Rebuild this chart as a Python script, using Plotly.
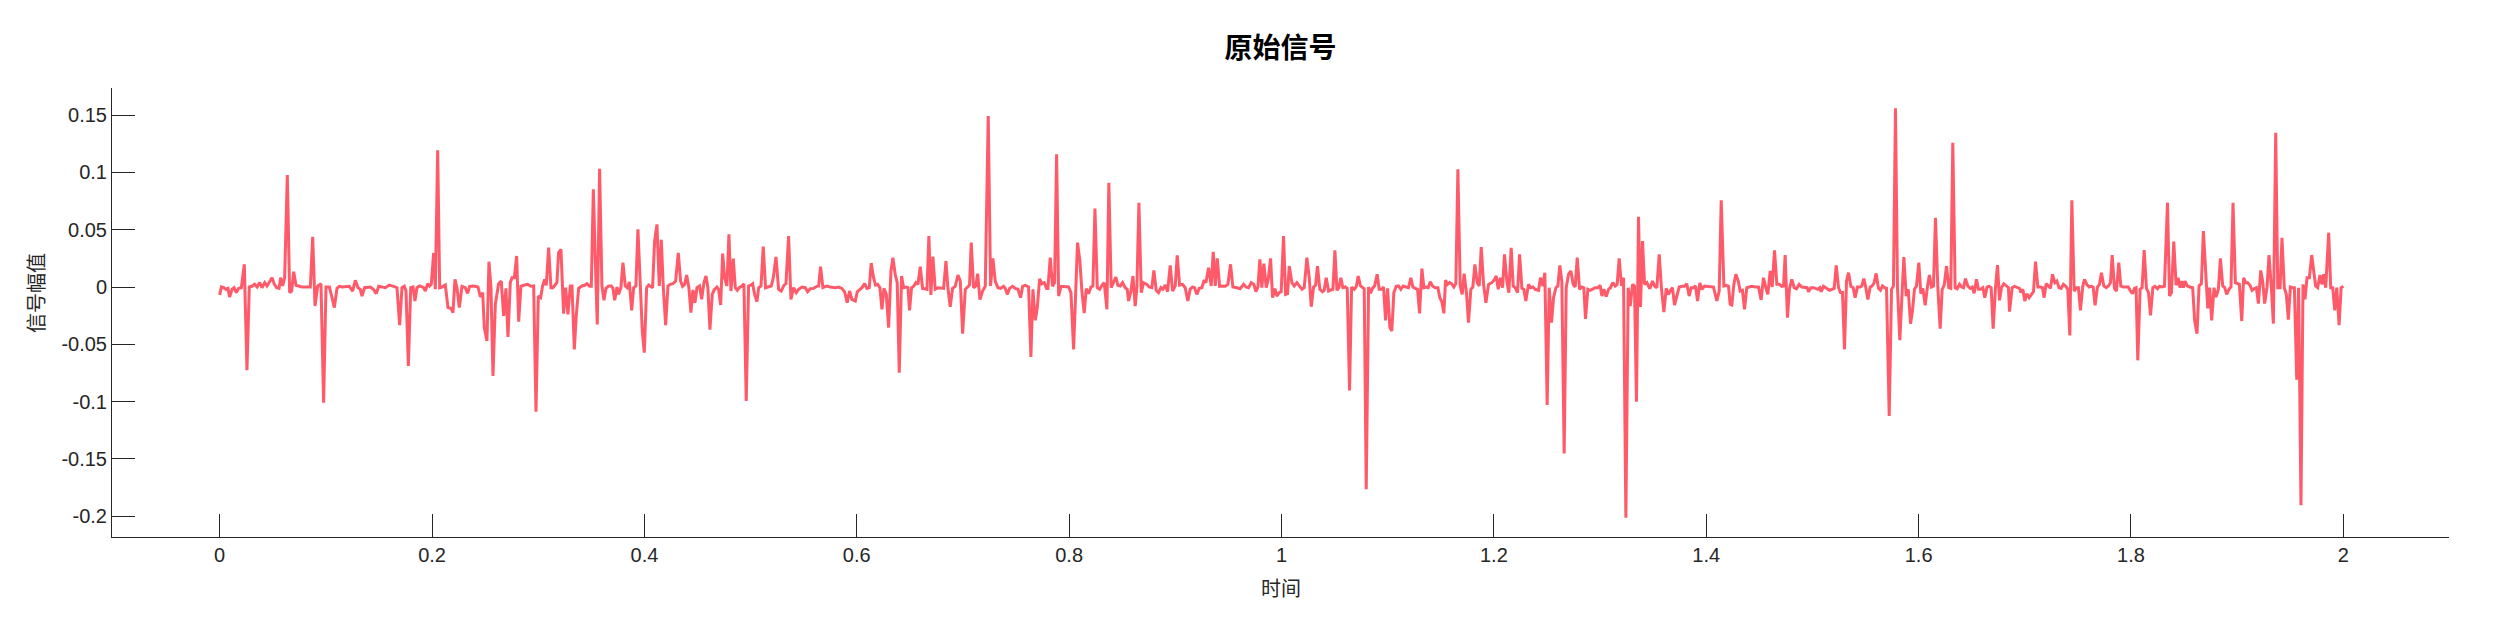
import plotly.graph_objects as go

# ---------------- data ----------------
time_s = [
    0.0, 0.0016, 0.0038, 0.006, 0.0078, 0.0094, 0.0116, 0.0135, 0.0157, 0.0179,
    0.0204, 0.0232, 0.0257, 0.0279, 0.0304, 0.033, 0.0352, 0.0377, 0.0399, 0.0424,
    0.0446, 0.0471, 0.0493, 0.0515, 0.0537, 0.0559, 0.0574, 0.0593, 0.0612, 0.0637,
    0.0659, 0.0678, 0.0697, 0.0719, 0.0744, 0.0775, 0.0854, 0.0876, 0.0898, 0.0923,
    0.0954, 0.0979, 0.1001, 0.1033, 0.1058, 0.108, 0.1105, 0.1127, 0.1152, 0.1221,
    0.1252, 0.1277, 0.1303, 0.1325, 0.134, 0.1365, 0.1419, 0.145, 0.1475, 0.1497,
    # seg 2
    0.156, 0.1598, 0.1638, 0.167, 0.1695, 0.1717, 0.1739, 0.1755, 0.1777, 0.1799,
    0.1821, 0.1839, 0.1858, 0.1883, 0.1921, 0.1937, 0.1959, 0.1977, 0.1993, 0.2015,
    0.2031, 0.2053, 0.2072, 0.2094, 0.2125, 0.215, 0.2178, 0.2197, 0.2216, 0.2235,
    0.2257, 0.2282, 0.2313, 0.2335, 0.2354, 0.2392, 0.2433, 0.2455, 0.2477, 0.2492,
    0.2517, 0.2536, 0.2555, 0.2574, 0.2596, 0.2627, 0.2652, 0.2674, 0.2696, 0.2715,
    0.2737, 0.2753, 0.2775, 0.2797, 0.2816, 0.2837, 0.2863, 0.29, 0.2932, 0.2957,
    0.2979, 0.3001, 0.3023, 0.3041, 0.306, 0.3076, 0.3098, 0.312, 0.3139, 0.3176,
    0.3192, 0.3214, 0.3239, 0.3258, 0.328,
    # seg 3
    0.3302, 0.3318, 0.334, 0.3359, 0.3381, 0.3412, 0.3437, 0.3459, 0.3484, 0.35,
    0.3519, 0.3538, 0.3556, 0.3578, 0.36, 0.3619, 0.3638, 0.3663, 0.3688, 0.3704,
    0.372, 0.3742, 0.3757, 0.3779, 0.3798, 0.382, 0.3839, 0.3858, 0.388, 0.3899,
    0.392, 0.3939, 0.3964, 0.398, 0.3999, 0.4021, 0.404, 0.4059, 0.4077, 0.4096,
    0.4118, 0.414, 0.4159, 0.4178, 0.42, 0.4222, 0.4244, 0.4269, 0.4294, 0.4319,
    0.4341, 0.436, 0.4379, 0.4398, 0.4419, 0.4438, 0.4457, 0.4476, 0.4495, 0.452,
    0.4539, 0.4561, 0.458, 0.4598, 0.4617, 0.4639, 0.4658, 0.4683, 0.4699, 0.4718,
    0.4737, 0.4755, 0.4777, 0.4796, 0.4815, 0.4837, 0.4856, 0.4875, 0.4893, 0.4919,
    0.4937, 0.4959,
    # seg 4
    0.4981, 0.5003, 0.5019, 0.5038, 0.506, 0.5076, 0.5098, 0.5119, 0.5141, 0.5163,
    0.5195, 0.5214, 0.5239, 0.5264, 0.5289, 0.5311, 0.5333, 0.5358, 0.538, 0.5405,
    0.543, 0.5452, 0.5484, 0.5515, 0.5537, 0.5562, 0.5593, 0.5625, 0.5641, 0.5659,
    0.5681, 0.5719, 0.575, 0.5797, 0.5829, 0.586, 0.5885, 0.591, 0.5932, 0.5954,
    0.5986, 0.6005, 0.6027, 0.6049, 0.6074, 0.6096, 0.6118, 0.6136, 0.6158, 0.6177,
    0.6196, 0.6218, 0.6237, 0.6256, 0.6278, 0.63, 0.6322, 0.634, 0.6362, 0.6381,
    0.64, 0.6422, 0.6441, 0.6463, 0.6482, 0.6497, 0.6516, 0.6538, 0.6557, 0.6576,
    0.6598, 0.662, 0.6639, 0.6661, 0.6679,
    # seg 5
    0.6698, 0.6717, 0.6739, 0.6764, 0.6793, 0.6818, 0.684, 0.6858, 0.688, 0.6902,
    0.6927, 0.6953, 0.6975, 0.6997, 0.7022, 0.7047, 0.7062, 0.7078, 0.71, 0.7122,
    0.7138, 0.716, 0.7185, 0.721, 0.7238, 0.726, 0.7282, 0.7304, 0.7329, 0.7354,
    0.7383, 0.7398, 0.7417, 0.7439, 0.7467, 0.7492, 0.7518, 0.7543, 0.7562, 0.7587,
    0.7618, 0.764, 0.7659, 0.7681, 0.77, 0.7722, 0.7744, 0.7766, 0.7788, 0.78,
    0.7822, 0.7844, 0.7863, 0.7882, 0.7901, 0.7923, 0.7963, 0.7995, 0.8017, 0.8042,
    0.8061, 0.8079, 0.8101, 0.812, 0.8142, 0.8161, 0.8183, 0.8205, 0.8224, 0.8243,
    0.8265, 0.8287, 0.8309, 0.833, 0.8356, 0.8374,
    # seg 6
    0.8396, 0.8418, 0.844, 0.8459, 0.8481, 0.8503, 0.8528, 0.8547, 0.856, 0.8582,
    0.8601, 0.8622, 0.8638, 0.8657, 0.8679, 0.8701, 0.8732, 0.8754, 0.8779, 0.8798,
    0.882, 0.8842, 0.8864, 0.8883, 0.8905, 0.8927, 0.8952, 0.8974, 0.8999, 0.9018,
    0.904, 0.9068, 0.9093, 0.9118, 0.914, 0.9162, 0.9181, 0.9203, 0.9225, 0.925,
    0.9272, 0.9288, 0.9313, 0.9338, 0.9357, 0.9376, 0.9395, 0.9417, 0.9439, 0.947,
    0.9495, 0.952, 0.9542, 0.958, 0.9611, 0.9643, 0.9665, 0.969, 0.9715, 0.974,
    0.9759, 0.9778, 0.9796, 0.9815, 0.9834, 0.9856, 0.9875, 0.9897, 0.9916, 0.9938,
    0.9956, 0.9978, 0.9997, 1.0019, 1.0038, 1.0057, 1.0073,
    # seg 7
    1.0098, 1.012, 1.0145, 1.0167, 1.0192, 1.0214, 1.0239, 1.0261, 1.028, 1.0302,
    1.0321, 1.0339, 1.0361, 1.0387, 1.0402, 1.0421, 1.0443, 1.0465, 1.0484, 1.0503,
    1.0522, 1.054, 1.0559, 1.0578, 1.06, 1.0619, 1.0641, 1.066, 1.0685, 1.0704,
    1.0722, 1.0744, 1.0763, 1.0779, 1.0798, 1.082, 1.0839, 1.0857, 1.0876, 1.0901,
    1.092, 1.0945, 1.0961, 1.098, 1.0999, 1.1021, 1.1039, 1.1058, 1.108, 1.1102,
    1.1124, 1.1146, 1.1171, 1.1196, 1.1218, 1.1237, 1.1259, 1.1281, 1.13, 1.1322,
    1.1341, 1.1363, 1.1382, 1.14, 1.1422, 1.1447, 1.1473, 1.1491, 1.151, 1.1529,
    1.1545, 1.1564, 1.1582, 1.1601, 1.1623, 1.1642, 1.1661, 1.1683, 1.1702, 1.172,
    1.1743, 1.1761,
    # seg 8
    1.1783, 1.1802, 1.1821, 1.1843, 1.1862, 1.1881, 1.1903, 1.1925, 1.195, 1.1981,
    1.2006, 1.2022, 1.2041, 1.206, 1.2082, 1.21, 1.2122, 1.2141, 1.2163, 1.2182,
    1.2201, 1.2223, 1.2242, 1.2264, 1.2282, 1.2301, 1.2326, 1.2345, 1.2367, 1.2389,
    1.2421, 1.2439, 1.2461, 1.248, 1.2502, 1.2521, 1.2543, 1.2562, 1.2584, 1.2603,
    1.2621, 1.264, 1.2662, 1.2681, 1.2703, 1.2725, 1.2747, 1.2766, 1.2785, 1.2807,
    1.2829, 1.2847, 1.2863, 1.2885, 1.2907, 1.2929, 1.2954, 1.2979, 1.3001, 1.3017,
    1.3036, 1.3058, 1.308, 1.3098, 1.312, 1.3142, 1.3161, 1.318, 1.3202, 1.3221,
    1.3243, 1.3265, 1.3284, 1.3306, 1.3324, 1.3343, 1.3362, 1.3381, 1.34, 1.3419,
    1.3441, 1.3463,
    # seg 9
    1.3472, 1.3494, 1.3513, 1.3535, 1.3557, 1.3579, 1.3601, 1.3623, 1.3645,
    1.3664, 1.3682, 1.3701, 1.3726, 1.3745, 1.377, 1.3795, 1.3817, 1.3839, 1.3858,
    1.388, 1.3899, 1.3918, 1.394, 1.3959, 1.3984, 1.4009, 1.4037, 1.4068, 1.41,
    1.4122, 1.4141, 1.4166, 1.4188, 1.421, 1.4225, 1.4241, 1.426, 1.4279, 1.4301,
    1.432, 1.4341, 1.436, 1.4382, 1.4404, 1.4429, 1.4461, 1.4492, 1.4517, 1.4539,
    1.4561, 1.458, 1.4602, 1.4621, 1.4643, 1.4665, 1.4687, 1.4712, 1.4728, 1.4743,
    1.4765, 1.4784, 1.4806, 1.4828, 1.485, 1.4875, 1.49, 1.4925, 1.495, 1.4963,
    1.4985, 1.501, 1.5032, 1.5051, 1.507, 1.5082, 1.5104,
    # seg 10
    1.5139, 1.5161, 1.5183, 1.5205, 1.5224, 1.5246, 1.5264, 1.5283, 1.5302, 1.5321,
    1.534, 1.5362, 1.5384, 1.5402, 1.5424, 1.545, 1.5465, 1.5484, 1.5503, 1.5522,
    1.5544, 1.5563, 1.5581, 1.56, 1.5622, 1.5641, 1.566, 1.5679, 1.5698, 1.5723,
    1.5745, 1.5763, 1.5782, 1.5801, 1.5823, 1.5842, 1.5861, 1.5883, 1.5902, 1.5924,
    1.5942, 1.5961, 1.598, 1.6002, 1.6021, 1.604, 1.6062, 1.6084, 1.6102, 1.6121,
    1.614, 1.6159, 1.6181, 1.6203, 1.6222, 1.6241, 1.6263, 1.6284, 1.6303, 1.6322,
    1.6344, 1.6363, 1.6385, 1.6404, 1.6423, 1.6441, 1.6463, 1.6485, 1.6504, 1.6523,
    1.6545, 1.6564, 1.6583, 1.6605, 1.6623, 1.6645, 1.6664, 1.6683, 1.6702, 1.6724,
    1.6743, 1.6762, 1.678, 1.6802, 1.6824, 1.6846, 1.6856,
    # seg 11
    1.6881, 1.6903, 1.6928, 1.695, 1.6963, 1.6981, 1.7, 1.7019, 1.7041, 1.706,
    1.7082, 1.7101, 1.7123, 1.7145, 1.7167, 1.7182, 1.7201, 1.7223, 1.7242, 1.7261,
    1.7283, 1.7302, 1.7323, 1.7342, 1.7364, 1.7386, 1.7405, 1.7424, 1.7443, 1.7465,
    1.7487, 1.7505, 1.7524, 1.7546, 1.7562, 1.7584, 1.7606, 1.7625, 1.7644, 1.7662,
    1.7684, 1.7703, 1.7722, 1.7744, 1.7766, 1.7788, 1.7807, 1.7823, 1.7845, 1.7863,
    1.7885, 1.7904, 1.7926, 1.7951, 1.7976, 1.7995, 1.8014, 1.8033, 1.8048, 1.8064,
    1.8086, 1.8105, 1.8124, 1.8146, 1.8165, 1.8184, 1.8206, 1.8227, 1.8249, 1.8268,
    1.829, 1.8315, 1.8344, 1.8363, 1.8381, 1.8403, 1.8425, 1.8444,
    # seg 12
    1.8462, 1.8478, 1.8493, 1.8509, 1.8531, 1.8556, 1.8581, 1.86, 1.8622, 1.8641,
    1.8663, 1.8682, 1.8704, 1.8723, 1.8741, 1.876, 1.8782, 1.8801, 1.8823, 1.8842,
    1.8864, 1.8883, 1.8901, 1.8923, 1.8942, 1.8961, 1.8983, 1.9002, 1.9021, 1.9043,
    1.9061, 1.908, 1.9099, 1.9121, 1.914, 1.9159, 1.9181, 1.92, 1.9222, 1.924,
    1.9259, 1.9281, 1.93, 1.9322, 1.9341, 1.9363, 1.9382, 1.9404, 1.9422, 1.9444,
    1.9463, 1.9482, 1.9501, 1.952, 1.9539, 1.9561, 1.9579, 1.9601, 1.962, 1.9639,
    1.9658, 1.968, 1.9702, 1.9721, 1.9739, 1.9758, 1.978, 1.9799, 1.9815, 1.9834,
    1.9862, 1.9881, 1.99, 1.9919, 1.9938, 1.996, 1.9979, 2.0,
]

amplitude = [
    -0.007, 0, -0.0006, -0.002, -0.0012, -0.0087, -0.002, -0.0006, -0.0049, -0.0012,
    -0.0006, 0.0198, -0.0727, 0, 0.0006, 0.0023, 0, 0.0038, -0.0006, 0.0038,
    0.0009, 0.0047, 0.0081, 0.0023, -0.0006, -0.0012, 0.0081, 0.0009, 0.0081, 0.0977,
    -0.0049, -0.0035, 0.0134, 0.0015, 0.0009, 0, 0, 0.0439, -0.0166, 0.0009,
    0.0029, -0.1009, 0, 0, -0.0093, -0.018, -0.0012, 0.0006, 0, 0.0006,
    -0.0035, 0.0058, -0.0006, -0.002, -0.0079, -0.0006, 0, -0.0023, -0.0058, 0.0006,
    # seg 2
    -0.0006, 0.0017, 0.0006, -0.0006, -0.0332, -0.0006, 0.0006, -0.0035, -0.0689, -0.0006,
    0, -0.0122, -0.0006, 0.0009, -0.0006, -0.0035, 0.0029, 0.0009, 0.0023, 0.0297,
    -0.002, 0.1193, -0.0006, 0, 0.0017, -0.018, -0.0186, -0.0224, 0.0067, -0.0006,
    -0.018, 0.0006, -0.0006, -0.0055, 0.0006, 0.0009, 0, -0.0087, -0.0049, -0.0355,
    -0.0471, 0.0221, -0.0006, -0.0777, -0.0151, 0.0029, 0.0052, -0.0253, -0.0012, -0.0436,
    0.0038, 0.0081, 0.0081, 0.0271, -0.0303, 0.0006, 0.0015, 0.0023, 0.0006, 0.0009,
    -0.1088, -0.0079, -0.0093, 0.0009, 0.0067, 0.0015, 0.0343, -0.0006, -0.0006, 0.0038,
    0.03, 0.0329, -0.0233, -0.0006, -0.0239,
    # seg 3
    0.0009, 0.0009, -0.0544, -0.0239, -0.0012, 0.0009, 0.0015, 0.0029, 0.0006, 0.0006,
    0.0852, 0.0227, -0.0326, 0.1033, 0.0009, -0.0116, -0.0012, 0.0009, 0.0009, -0.0012,
    -0.0116, 0, -0.0064, -0.0006, 0.0212, 0.0009, -0.0006, 0.0044, -0.0204, -0.0006,
    0.0009, 0.0503, -0.0006, -0.0384, -0.0573, -0.0006, 0.0017, 0.0006, -0.0006, 0.0401,
    0.0547, 0.0009, 0.0413, -0.0006, -0.0332, 0.0009, 0.0023, 0.0029, 0.0052, 0.0297,
    0.0052, 0.0006, 0.0023, 0.0105, -0.0006, -0.0224, -0.0026, -0.0137, -0.0006, 0.0009,
    -0.0108, 0.0038, 0.0096, -0.0006, -0.0372, -0.0064, -0.0023, 0, -0.0023, -0.0157,
    0.0291, 0.0081, 0.0009, 0.046, -0.0035, 0.0247, -0.0006, -0.0029, -0.0006, 0.0009,
    0.0029, -0.0995,
    # seg 4
    0.0009, 0.0017, 0.0029, -0.0064, -0.0128, -0.0006, 0.0009, 0.0352, -0.0006, 0,
    0.0009, 0.0081, 0.0262, -0.002, -0.0035, 0.0009, 0.0029, 0.0445, -0.0108, -0.0006,
    -0.0049, -0.002, 0, -0.0006, -0.0041, -0.0015, -0.0012, 0.0006, 0.0009, 0.0177,
    -0.0006, 0.0009, 0, -0.0006, 0, -0.0012, -0.0041, -0.0137, -0.0035, -0.0108,
    -0.0122, -0.0041, -0.0026, -0.0006, 0.0029, -0.0012, -0.0006, 0.0209, 0.0081, 0.0017,
    0.0023, -0.0006, -0.0195, -0.0012, -0.0064, -0.0355, 0.014, 0.0256, 0.0111, 0.0038,
    -0.0748, 0.0096, -0.0006, 0, -0.0006, -0.0204, -0.0006, 0.0009, 0.0038, 0.0023,
    0.0177, -0.0012, -0.0015, -0.002, 0.0445,
    # seg 5
    -0.007, 0.0265, -0.002, -0.0006, -0.0006, -0.0012, 0.0227, -0.0006, -0.0172, -0.0012,
    0.0006, 0.0105, 0.0052, -0.0407, -0.002, 0.0009, 0.0017, 0.0387, -0.0006, 0.0009,
    0.0116, -0.011, -0.0035, 0.0006, 0.1492, 0.0009, 0.025, 0.0052, -0.0006, -0.0012,
    0.0006, -0.0012, -0.0064, -0.0012, 0.0006, -0.0012, -0.002, -0.0093, 0.0006, 0.0015,
    0, -0.0611, -0.002, -0.0291, -0.018, 0.007, 0.0029, 0.0038, -0.0012, -0.0012,
    0.0256, 0.0006, 0.0038, 0.1158, -0.0079, 0.0006, 0.0006, 0, -0.0049, -0.0544,
    -0.0064, 0.0387, 0.0227, -0.0035, -0.0227, -0.0015, -0.0058, 0, 0.0009, 0.0684,
    -0.0006, -0.002, 0.0015, 0.0038, -0.0195, 0.091,
    # seg 6
    -0.0006, 0.0038, 0.0087, 0.0015, 0.0009, 0.0038, -0.0006, -0.002, -0.0122, -0.0035,
    0.0096, -0.0166, -0.0006, 0.0736, -0.0049, 0.0038, 0.0023, 0, -0.0006, 0.0145,
    -0.0029, -0.0049, -0.0006, -0.002, 0.0017, -0.0041, 0.0189, -0.0035, 0.0009, 0.0276,
    0.0017, 0.0023, -0.0006, -0.0122, -0.002, 0, -0.0006, -0.0064, -0.0012, -0.0006,
    0.0061, 0.0038, 0.0169, 0.0009, 0.0308, 0.0009, 0.025, 0.0006, 0.0009, 0.0006,
    0.0023, 0.0198, 0, -0.0006, -0.0015, 0.0023, 0, -0.0006, 0.0038, 0.0023,
    -0.0041, 0, 0.0241, -0.0006, 0.0204, -0.0006, 0.0067, 0.025, -0.0093, -0.0015,
    -0.0079, -0.0049, -0.0041, 0.0445, -0.0064, -0.0058, 0.0183,
    # seg 7
    0.0038, 0.0009, 0.0038, 0.0015, -0.002, -0.0006, 0.0256, 0.0081, -0.0172, 0,
    0.0015, 0.0183, -0.002, -0.0041, -0.0029, 0.0081, -0.0035, -0.0026, -0.002, 0.032,
    -0.0029, -0.0006, 0.0081, -0.0006, 0, -0.0012, -0.0902, 0, -0.002, 0.0003,
    0.0096, 0.0009, -0.0006, -0.0015, -0.1766, 0, -0.0055, -0.0012, 0.0009, 0.0111,
    -0.002, -0.002, 0, -0.0291, -0.0012, -0.0355, -0.0384, -0.0049, 0.0006, 0.0009,
    -0.002, 0.0009, 0, -0.0006, 0.0081, 0, -0.0012, -0.002, -0.023, 0.016,
    -0.0006, 0, -0.0006, 0.0047, 0.0009, -0.0006, -0.0006, -0.0093, -0.0128, -0.023,
    0.0061, 0.0023, 0.0038, 0.0029, 0, 0.0029, 0.1027, 0.0009, -0.0064, 0.0116,
    -0.0064, -0.0311,
    # seg 8
    -0.002, 0, 0.0198, 0.0038, 0.0009, 0.0349, 0.0023, -0.0137, 0.0023, 0.0038,
    0.0067, 0.0096, -0.002, 0.0081, -0.0006, 0.0285, 0.0052, -0.0049, 0.0343, 0.0009,
    -0.0006, -0.0049, 0.0285, -0.0012, -0.002, -0.0122, 0.0023, -0.0006, 0, -0.002,
    -0.0029, 0.0081, 0.0009, 0.0125, -0.103, -0.0006, -0.0311, -0.0093, -0.0006, 0.0009,
    0.0189, 0.0052, -0.1454, -0.0006, 0.0111, 0.014, 0.0023, 0, 0.0256, -0.002,
    0, -0.0006, -0.0279, -0.002, -0.0029, -0.002, -0.0006, -0.0006, 0.0015, -0.0079,
    -0.002, -0.0084, -0.002, -0.0006, 0.0038, 0.0009, 0.0023, 0.025, 0.0009, 0.0081,
    -0.2013, -0.0006, -0.0166, 0.0023, 0.0009, -0.1001, 0.0614, -0.0175, 0.0401, 0.0023,
    0.0038, -0.0006,
    # seg 9
    -0.0006, 0.0052, 0.0009, -0.0006, 0.0285, -0.002, -0.0218, -0.0012, -0.0064,
    -0.0029, -0.0006, -0.0157, -0.0079, 0, 0.0006, 0.0006, 0.0029, -0.0079, -0.0006,
    -0.0006, 0.0009, -0.0122, 0.0035, -0.002, 0.0009, 0.0006, 0.0006, 0, -0.0122,
    -0.0035, 0.0756, 0.0009, 0.0015, 0.0006, -0.0151, -0.0157, 0.0023, 0.0111, 0.0052,
    -0.0035, -0.0029, -0.0195, -0.0006, 0, 0.0006, 0, 0, -0.0113, 0.0081,
    -0.0006, -0.0064, 0.014, 0, 0.032, 0.0023, 0.0023, 0.0006, 0.0009, 0.0279,
    -0.0268, -0.0012, 0.0067, -0.0006, -0.0015, 0.0023, 0, 0, -0.0006, -0.0041,
    -0.0006, -0.0006, -0.0012, -0.002, -0.0006, -0.0041, 0.0006,
    # seg 10
    -0.002, -0.0029, -0.002, -0.0012, 0.0189, -0.0006, -0.0049, -0.0049, -0.0544, 0.0052,
    0.0125, 0.0006, -0.0006, -0.0093, 0, 0, 0.0009, 0.0073, -0.0006, -0.0108,
    0, 0.0009, 0.0038, 0.0119, -0.0012, -0.0029, 0.0009, -0.0006, -0.0012, -0.1126,
    -0.002, 0.0009, 0.1559, -0.0006, -0.0465, -0.0035, 0.0262, -0.0079, -0.002, -0.032,
    -0.0209, -0.002, 0.0009, 0.0212, -0.0058, -0.0012, -0.016, 0.0009, 0.0105, 0,
    0.0009, 0.0605, -0.0006, -0.0364, -0.002, 0.0017, 0.0183, -0.0006, -0.0012, 0.1259,
    -0.0006, -0.0015, 0.0023, 0, -0.0006, 0.0073, 0.0009, -0.0012, 0, -0.0055,
    0.0067, -0.002, -0.002, -0.0006, -0.0093, 0, 0.0006, -0.0006, -0.0364, -0.0006,
    0.0192, -0.0116, -0.0006, 0.0029, 0.0009, -0.0006, -0.0215,
    # seg 11
    -0.0006, 0.0006, 0, -0.0012, -0.0049, -0.002, -0.0122, -0.0058, -0.0093, -0.0064,
    -0.0041, 0.0221, 0, 0, -0.0006, -0.0093, 0.0029, 0.0009, -0.0012, 0.0111,
    0.0038, 0.0052, -0.0006, -0.0012, 0.0023, 0.0006, -0.002, -0.0422, 0.0756, -0.0035,
    -0.0006, -0.0006, -0.0204, 0.0006, 0.0067, 0.0023, 0, 0.0006, 0, -0.016,
    0, 0.0023, 0.0125, 0.0009, -0.0006, 0.0009, 0.0038, 0.0279, -0.0012, -0.0035,
    0.0212, 0.0009, 0, 0, 0, -0.0035, -0.0058, -0.0012, -0.0006, -0.064,
    -0.002, -0.0006, 0.0323, -0.0012, -0.0049, -0.0247, -0.0006, 0.0006, -0.0015, 0.0006,
    0, 0.0006, 0.0736, -0.0079, -0.0049, 0.0396, 0.0015, 0.0081,
    # seg 12
    -0.0006, 0.0052, -0.0006, 0.0052, 0.0009, 0, -0.0006, -0.0297, -0.0407, 0.0009,
    0.0029, 0.0489, 0.0111, -0.0186, -0.0006, -0.0291, -0.0006, -0.0087, -0.002, 0.025,
    0.0009, -0.0006, -0.0064, -0.002, 0, 0.0736, 0.0038, 0.0029, 0.0023, -0.0297,
    0.0081, 0.0038, 0.0038, 0.0015, -0.0029, -0.0015, -0.0006, -0.0145, 0.0145, 0.0052,
    -0.0145, -0.0006, 0.0279, -0.0006, -0.032, 0.1347, -0.0006, -0.0006, 0.043, -0.0006,
    -0.0064, -0.0285, 0, -0.0006, -0.0006, -0.0809, -0.0006, -0.1905, 0.0023, -0.0108,
    0.0081, 0.0081, 0.0279, 0.014, 0.0009, -0.0006, 0.0105, 0.0023, 0.0111, -0.0006,
    0.0474, -0.0006, -0.0006, -0.0204, -0.0006, -0.0332, -0.0006, 0.0006,
]

x_tick_values = [0, 0.2, 0.4, 0.6, 0.8, 1, 1.2, 1.4, 1.6, 1.8, 2]
x_tick_labels = ["0", "0.2", "0.4", "0.6", "0.8", "1", "1.2", "1.4", "1.6", "1.8", "2"]
y_tick_values = [-0.2, -0.15, -0.1, -0.05, 0, 0.05, 0.1, 0.15]
y_tick_labels = ["-0.2", "-0.15", "-0.1", "-0.05", "0", "0.05", "0.1", "0.15"]

title_text = "原始信号"
x_label = "时间"
y_label = "信号幅值"

# ---------------- figure ----------------
n = min(len(time_s), len(amplitude))
axis_color = "#262626"
tick_font = dict(family="Liberation Sans, Arial, sans-serif", size=20, color=axis_color)
cjk_font = "Noto Sans CJK SC"

fig = go.Figure()
fig.add_trace(go.Scatter(
    x=time_s[:n], y=amplitude[:n], mode="lines",
    line=dict(color="#FF5A69", width=3), hoverinfo="skip", showlegend=False,
))

fig.update_layout(
    width=2500, height=625,
    margin=dict(l=104, r=59, t=80, b=96, pad=0),
    paper_bgcolor="white", plot_bgcolor="white",
    title=dict(text=title_text, x=0.5, xref="paper", xanchor="center",
               y=1 - 40 / 625, yanchor="middle",
               font=dict(family=cjk_font, size=28, color="black", weight="bold")),
    xaxis=dict(range=[-0.1014, 2.0995], tickvals=x_tick_values, ticktext=x_tick_labels,
               ticks="inside", ticklen=23, tickwidth=1, tickcolor=axis_color,
               showline=True, linecolor=axis_color, linewidth=1,
               showgrid=False, zeroline=False, tickfont=tick_font, mirror=False),
    yaxis=dict(range=[-0.2182, 0.1737], tickvals=y_tick_values, ticktext=y_tick_labels,
               ticks="inside", ticklen=23, tickwidth=1, tickcolor=axis_color,
               showline=True, linecolor=axis_color, linewidth=1,
               showgrid=False, zeroline=False, tickfont=tick_font, mirror=False),
    annotations=[
        dict(text=x_label, xref="paper", yref="paper", x=0.5, y=-50 / 449,
             xanchor="center", yanchor="middle", showarrow=False,
             font=dict(family=cjk_font, size=20, color=axis_color)),
        dict(text=y_label, xref="paper", yref="paper", x=-77 / 2337, y=(537 - 293) / 449,
             xanchor="center", yanchor="middle", showarrow=False, textangle=-90,
             font=dict(family=cjk_font, size=20, color=axis_color)),
    ],
)

fig.write_html("out.html")
